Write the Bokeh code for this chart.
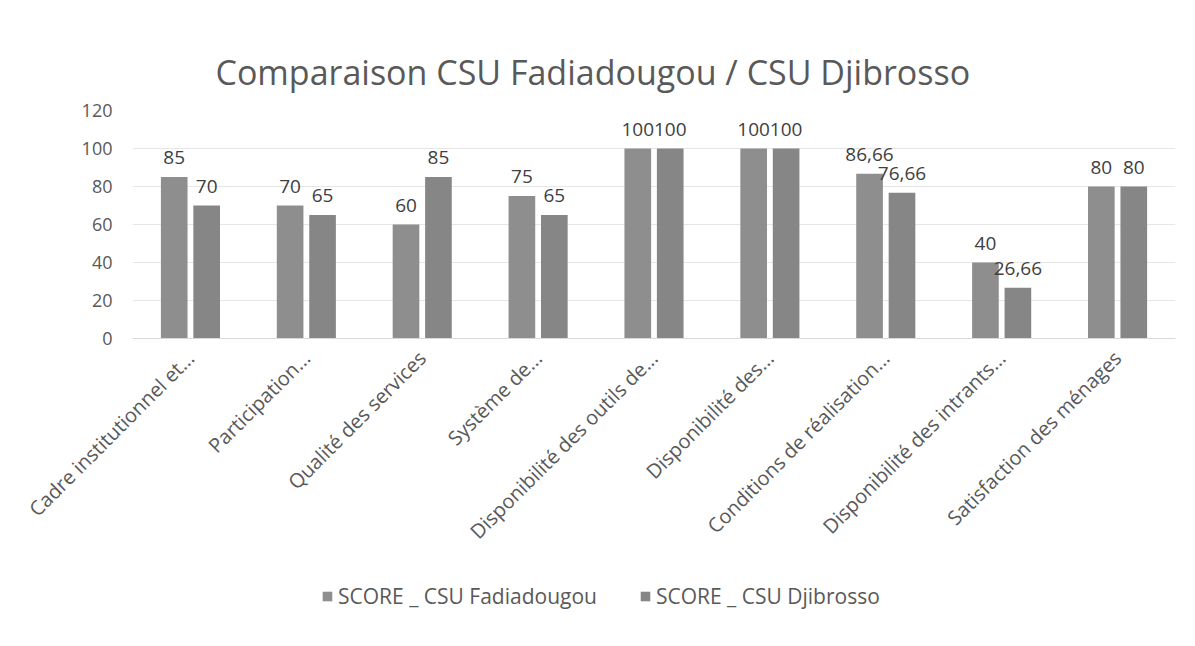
import math
from bokeh.plotting import figure
from bokeh.layouts import column
from bokeh.models import ColumnDataSource, FactorRange, LabelSet, Legend, LegendItem
from bokeh.transform import dodge
from bokeh.core.properties import value
from bokeh.embed import file_html
from bokeh.resources import INLINE

categories = [
    "Cadre institutionnel et...",
    "Participation...",
    "Qualité des services",
    "Système de...",
    "Disponibilité des outils de...",
    "Disponibilité des...",
    "Conditions de réalisation...",
    "Disponibilité des intrants...",
    "Satisfaction des ménages",
]
fadiadougou = [85, 70, 60, 75, 100, 100, 86.66, 40, 80]
djibrosso = [70, 65, 85, 65, 100, 100, 76.66, 26.66, 80]
y_ticks = [0, 20, 40, 60, 80, 100, 120]
series_names = ["SCORE _ CSU Fadiadougou", "SCORE _ CSU Djibrosso"]
colors = ["#8e8e8e", "#868686"]


def fmt(v):
    s = ("%g" % v)
    return s.replace(".", ",")


src = ColumnDataSource(dict(
    cat=categories,
    a=fadiadougou,
    b=djibrosso,
    la=[fmt(v) for v in fadiadougou],
    lb=[fmt(v) for v in djibrosso],
))

FONT = "Open Sans"
TXT = "#595959"
W = 1179

p = figure(
    x_range=FactorRange(*categories, range_padding=0),
    y_range=(0, 120),
    width=W, height=560,
    output_backend="svg", toolbar_location=None,
    min_border_left=132, min_border_right=4, min_border_top=110,
    min_border_bottom=222,
    background_fill_color="white", border_fill_color="white",
    outline_line_color=None,
)

p.title.text = "Comparaison CSU Fadiadougou / CSU Djibrosso"
p.title.align = "left"
p.title.offset = 83
p.title.text_font = FONT
p.title.text_font_size = "34px"
p.title.text_font_style = "normal"
p.title.text_color = TXT
p.title.standoff = 32

ra = p.vbar(x=dodge("cat", -0.14, range=p.x_range), top="a", width=0.23,
            source=src, fill_color=colors[0], line_color=None)
rb = p.vbar(x=dodge("cat", 0.14, range=p.x_range), top="b", width=0.23,
            source=src, fill_color=colors[1], line_color=None)

for col, ycol, off in (("la", "a", -0.14), ("lb", "b", 0.14)):
    p.add_layout(LabelSet(
        x=dodge("cat", off, range=p.x_range), y=ycol, text=col, source=src,
        y_offset=13, text_align="center", text_baseline="bottom",
        text_font=value(FONT), text_font_size="19px", text_color="#404040",
    ))

p.yaxis.ticker = y_ticks
p.yaxis.axis_line_color = None
p.yaxis.major_tick_line_color = None
p.yaxis.minor_tick_line_color = None
p.yaxis.major_label_text_font = FONT
p.yaxis.major_label_text_font_size = "18px"
p.yaxis.major_label_text_color = TXT
p.yaxis.major_label_standoff = 14

p.xaxis.axis_line_color = "#d9d9d9"
p.xaxis.major_tick_line_color = None
p.xaxis.minor_tick_line_color = None
p.xaxis.major_label_orientation = math.pi / 4
p.xaxis.major_label_text_font = FONT
p.xaxis.major_label_text_font_size = "20px"
p.xaxis.major_label_text_color = TXT
p.xaxis.major_label_standoff = 10

p.xgrid.grid_line_color = None
p.ygrid.grid_line_color = "#e6e6e6"

# legend strip below the chart
pl = figure(
    width=W, height=80, x_range=(0, 1), y_range=(0, 1),
    output_backend="svg", toolbar_location=None,
    x_axis_location=None, y_axis_location=None,
    min_border=0, outline_line_color=None,
    background_fill_color="white", border_fill_color="white",
)
pl.grid.visible = False
la_r = pl.vbar(x=[0.5], top=[0], bottom=[0], width=0.01,
               fill_color=colors[0], line_color=None)
lb_r = pl.vbar(x=[0.5], top=[0], bottom=[0], width=0.01,
               fill_color=colors[1], line_color=None)
legend = Legend(
    items=[LegendItem(label=series_names[0], renderers=[la_r]),
           LegendItem(label=series_names[1], renderers=[lb_r])],
    orientation="horizontal", location=(189, 30),
    label_text_font=FONT, label_text_font_size="21px", label_text_color=TXT,
    glyph_width=12, glyph_height=12, spacing=42, label_standoff=5,
    border_line_color=None, background_fill_alpha=0,
    margin=0, padding=4,
)
pl.add_layout(legend)

open("out.html", "w").write(file_html(column(p, pl, spacing=0), INLINE))
